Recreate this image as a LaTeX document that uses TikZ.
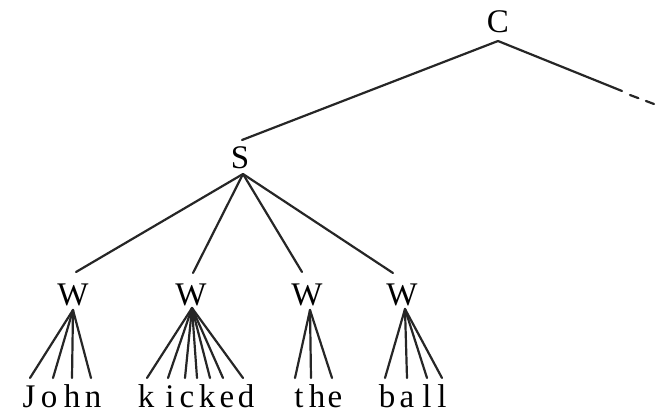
\documentclass[tikz,border=0pt]{standalone}
\usepackage{fontspec}
\setmainfont{Liberation Serif}
\begin{document}
\begin{tikzpicture}[x=1pt,y=-1pt,
  lab/.style={inner sep=0pt,anchor=base,font=\fontsize{33}{33}\selectfont,text=black},
  ltr/.style={inner sep=0pt,anchor=base,font=\fontsize{33}{33}\selectfont,text=black},
  edge/.style={draw=black!85,line width=2.2pt,line cap=round}]
\useasboundingbox (0,0) rectangle (656,413);
% category labels
\node[lab] (C) at (498,32) {C};
\node[lab] (S) at (240,168) {S};
\node[lab] (W1) at (73,305) {W};
\node[lab] (W2) at (191,305) {W};
\node[lab] (W3) at (307,305) {W};
\node[lab] (W4) at (402,305) {W};
% apex / attachment points
\coordinate (Ca) at (498,41);
\coordinate (Sin) at (242,140);
\coordinate (Sa) at (243,174);
\coordinate (W1in) at (76,272);
\coordinate (W2in) at (193,273);
\coordinate (W3in) at (302,272);
\coordinate (W4in) at (393,273);
\coordinate (W1a) at (73,310);
\coordinate (W2a) at (192,308);
\coordinate (W3a) at (310,310);
\coordinate (W4a) at (405,309);
\coordinate (Cr) at (622,91);
\coordinate (Cd1) at (630,95);
\coordinate (Cd2) at (654,104);
% upper tree
\draw[edge] (Ca) -- (Sin);
\draw[edge] (Ca) -- (Cr);
\draw[edge,dash pattern=on 9pt off 8pt] (Cd1) -- (Cd2);
\foreach \w in {W1in,W2in,W3in,W4in} \draw[edge] (Sa) -- (\w);
% letters
\foreach \n/\x/\t/\lx/\wa in {
  J/29/J/30/W1a, o1/49/o/53/W1a, h1/72/h/72/W1a, n/93/n/91/W1a,
  k1/146/k/147/W2a, i/170/i/168/W2a, c/187/c/185/W2a, k2/207/k/197/W2a, e1/227/e/210/W2a, d/246/d/223/W2a, ex/0/{}/243/W2a,
  t/299/t/295/W3a, h2/317/h/311/W3a, e2/335/e/332/W3a,
  b/387/b/385/W4a, a/407/a/407/W4a, l1/427/l/427/W4a, l2/442/l/442/W4a}{
  \ifx\t\empty\else\node[ltr] (L\n) at (\x,407) {\t};\fi
  \coordinate (T\n) at (\lx,378);
  \draw[edge] (\wa) -- (T\n);
}
\end{tikzpicture}
\end{document}
